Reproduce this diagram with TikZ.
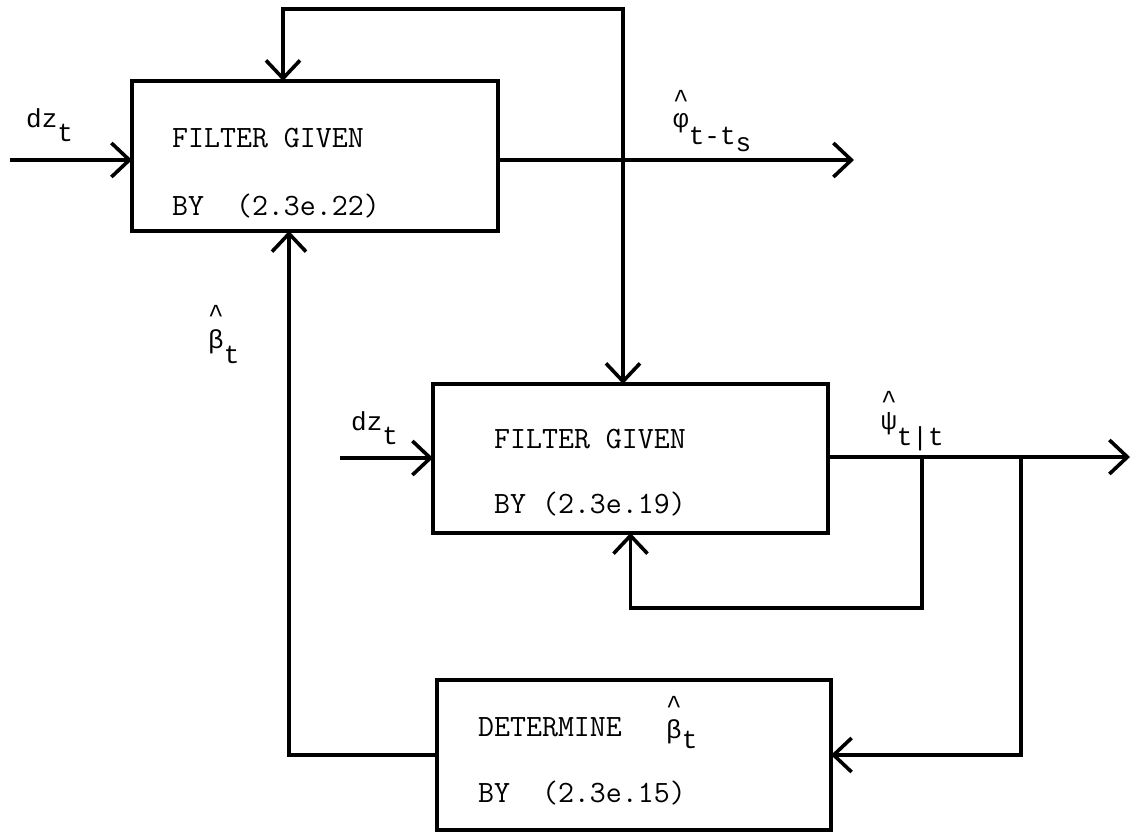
\documentclass[tikz,border=0pt]{standalone}
\usepackage{fontspec}
\newfontfamily\lblfont{Liberation Mono}
\usetikzlibrary{arrows.meta}
\newcommand{\hatover}[2]{\ooalign{#2\cr\hidewidth\raisebox{#1}{\textasciicircum}\hidewidth\cr}}
\begin{document}
\begin{tikzpicture}[x=1pt,y=-1pt,
  blk/.style={draw, line width=4pt, rectangle, outer sep=0pt, inner sep=0pt},
  ln/.style={line width=3.6pt},
  arr/.style={-{Straight Barb[length=18pt,width=34pt]}},
  boxtxt/.style={anchor=base west, inner sep=0pt, font=\ttfamily\fontsize{31}{35}\selectfont},
  lbl/.style={anchor=base west, inner sep=0pt, font=\lblfont\fontsize{26}{30}\selectfont},
]
\useasboundingbox (0,0) rectangle (1132,832);
% boxes
\node[blk, minimum width=366pt, minimum height=150pt] (A) at (315,156) {};
\node[blk, minimum width=395pt, minimum height=149pt] (B) at (630.5,458.5) {};
\node[blk, minimum width=394pt, minimum height=150pt] (C) at (634,755) {};
% box texts
\node[boxtxt] (a1) at (172,147) {FILTER GIVEN};
\node[boxtxt] (a2) at (172,215) {BY\ \ (2.3e.22)};
\node[boxtxt] (b1) at (494,448) {FILTER GIVEN};
\node[boxtxt] (b2) at (494,513) {BY (2.3e.19)};
\node[boxtxt] (c1) at (478,736) {DETERMINE};
\node[boxtxt] (c2) at (478,802) {BY\ \ (2.3e.15)};
\node[lbl] (c3) at (666,738) {\hatover{25pt}{β}\raisebox{-10pt}{t}};
% coordinates
\coordinate (inA) at (10,160);
\coordinate (jA) at (623,160);
\coordinate (outA) at (854,160);
\coordinate (tl) at (283,9);
\coordinate (inB) at (340,458);
\coordinate (outB) at (1130,457);
\coordinate (jB1) at (922,457);
\coordinate (lb) at (922,608);
\coordinate (jB2) at (1021,457);
\coordinate (lf) at (289,755);
% connectors
\draw[ln,arr] (inA) -- (inA -| A.west);
\draw[ln,arr] (A.east |- inA) -- (outA);
\draw[ln,arr] (jA) |- (tl) -- (tl |- A.north);
\draw[ln,arr] (jA) -- (jA |- B.north);
\draw[ln,arr] (inB) -- (inB -| B.west);
\draw[ln,arr] (B.east |- outB) -- (outB);
\draw[ln,arr] (jB1) -- (lb) -| (B.south);
\draw[ln,arr] (jB2) |- (C.east);
\draw[ln,arr] (C.west) -- (lf) -- (lf |- A.south);
% labels
\node[lbl] (ldzA) at (26,128) {dz\raisebox{-14pt}{t}};
\node[lbl] (ldzB) at (351,430) {dz\raisebox{-14pt}{t}};
\node[lbl] (lphi) at (673,128) {\hatover{20pt}{φ}\raisebox{-17pt}{t-t\raisebox{-7pt}{s}}};
\node[lbl] (lpsi) at (881,429) {\hatover{21pt}{ψ}\raisebox{-16pt}{t|t}};
\node[lbl] (lbeta) at (208,348) {\hatover{26pt}{β}\raisebox{-15pt}{t}};
\end{tikzpicture}
\end{document}
